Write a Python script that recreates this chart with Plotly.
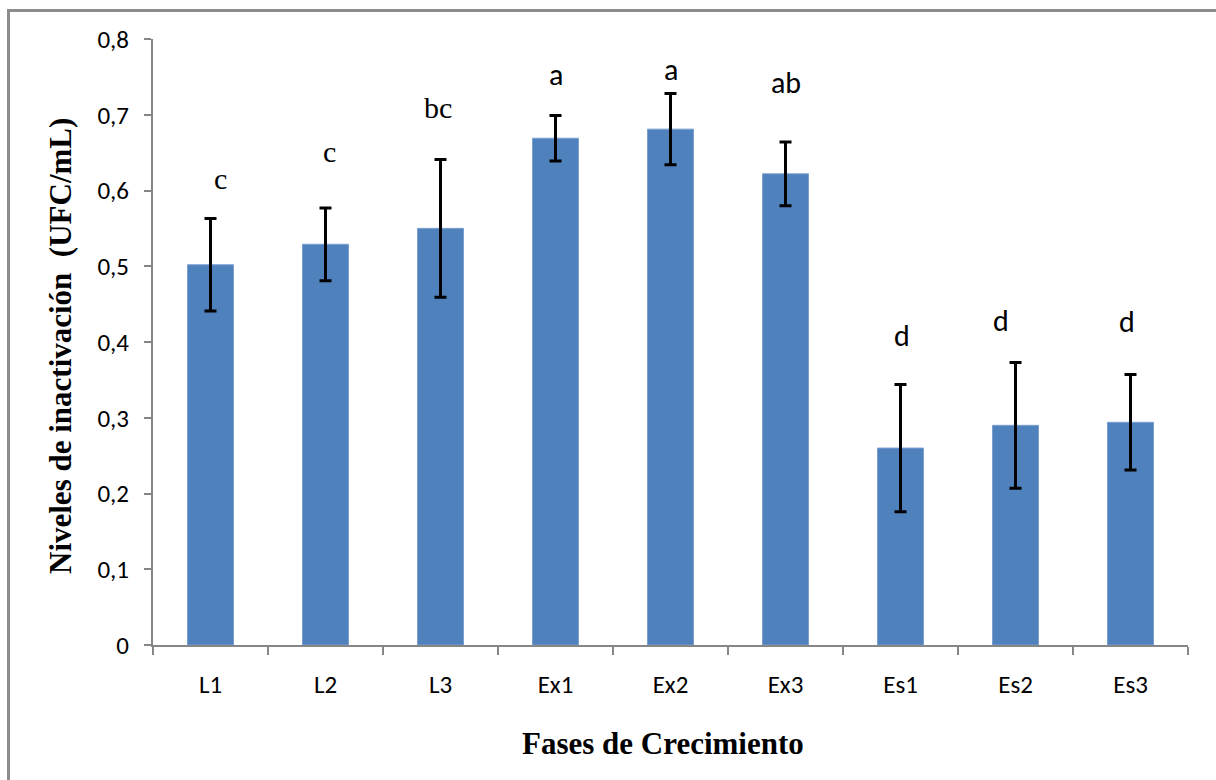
import plotly.graph_objects as go

# Growth phases and mean inactivation levels with their errors
phases = ["L1", "L2", "L3", "Ex1", "Ex2", "Ex3", "Es1", "Es2", "Es3"]
inactivation = [0.502, 0.529, 0.550, 0.669, 0.681, 0.622, 0.260, 0.290, 0.294]
error = [0.061, 0.048, 0.091, 0.030, 0.047, 0.042, 0.084, 0.083, 0.063]

# Significance letters for each phase
letters = ["c", "c", "bc", "a", "a", "ab", "d", "d", "d"]

# Letter placement (height in axis units, horizontal nudge in px, font family)
letter_y = [0.6165, 0.651, 0.709, 0.7525, 0.760, 0.743, 0.408, 0.429, 0.427]
letter_dx = [9.5, 3.5, -2.5, 0, 0, 0, 1.5, -14.5, -3.5]
SERIF = "Liberation Serif, Times New Roman, serif"
SANS = "Carlito, Lato, sans-serif"
letter_font = [SERIF, SERIF, SERIF, SANS, SANS, SANS, SANS, SANS, SANS]

fig = go.Figure()
fig.add_trace(go.Bar(
    x=phases,
    y=inactivation,
    width=0.4,
    marker=dict(color="#4F81BD", line=dict(color="#7C9FD0", width=1)),
    error_y=dict(type="data", array=error, visible=True,
                 color="black", thickness=3, width=6),
    hoverinfo="x+y",
))

annotations = []
for ph, txt, yv, dx, fam in zip(phases, letters, letter_y, letter_dx, letter_font):
    annotations.append(dict(
        x=ph, y=yv, xref="x", yref="y", text=txt, showarrow=False,
        xshift=dx, xanchor="center", yanchor="middle",
        font=dict(family=fam, size=30, color="black"),
    ))

# Axis titles
annotations.append(dict(
    x=662.7, y=743, xref="paper", yref="paper", text="<b>Fases de Crecimiento</b>",
    showarrow=False, xanchor="center", yanchor="middle",
    font=dict(family=SERIF, size=31, color="black"),
))
annotations.append(dict(
    x=60, y=346, xref="paper", yref="paper",
    text="<b>Niveles de inactivación  (UFC/mL)</b>",
    showarrow=False, xanchor="center", yanchor="middle", textangle=-90,
    font=dict(family=SERIF, size=31, color="black"),
))

# Convert pixel placements of the titles into paper coordinates
L, R, T, B = 153, 28, 39, 135
W, H = 1216, 780
pw, ph_ = W - L - R, H - T - B
for a in annotations[-2:]:
    a["x"] = (a["x"] - L) / pw
    a["y"] = (H - B - a["y"]) / ph_

fig.update_layout(
    width=W, height=H,
    margin=dict(l=L, r=R, t=T, b=B),
    paper_bgcolor="white", plot_bgcolor="white",
    separators=", ",
    showlegend=False,
    bargap=0.6,
    annotations=annotations,
    shapes=[dict(
        type="rect", xref="paper", yref="paper",
        x0=(8.5 - L) / pw, x1=(1240 - L) / pw,
        y0=(H - B - 800) / ph_, y1=(H - B - 10.5) / ph_,
        line=dict(color="#8C8C8C", width=3), fillcolor="rgba(0,0,0,0)",
        layer="below",
    )],
)

fig.update_xaxes(
    type="category",
    showline=True, linecolor="#868686", linewidth=2,
    ticks="outside", tickson="boundaries", ticklen=8, tickcolor="#868686", tickwidth=2,
    tickfont=dict(family=SANS, size=25, color="black"),
    ticklabelstandoff=16,
    showgrid=False, zeroline=False,
)
fig.update_yaxes(
    range=[0, 0.8], dtick=0.1, tick0=0,
    showline=True, linecolor="#868686", linewidth=2,
    ticks="outside", ticklen=7, tickcolor="#868686", tickwidth=2,
    tickfont=dict(family=SANS, size=25, color="black"),
    ticklabelstandoff=10,
    showgrid=False, zeroline=False,
)

fig.write_html("out.html")
